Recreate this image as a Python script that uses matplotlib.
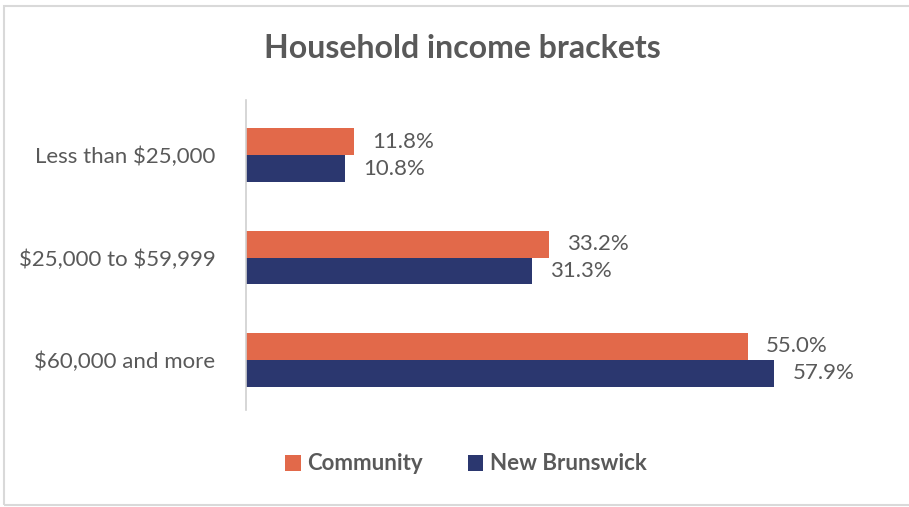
import matplotlib; matplotlib.use("Agg")
import matplotlib.pyplot as plt
from matplotlib.patches import Rectangle
import numpy as np

categories = ["Less than \\$25,000", "\\$25,000 to \\$59,999", "\\$60,000 and more"]
community = [11.8, 33.2, 55.0]
new_brunswick = [10.8, 31.3, 57.9]
series_names = ["Community", "New Brunswick"]

ORANGE = "#E2694A"
NAVY = "#2B376F"
GREY = "#595959"
FONT = ["Lato", "DejaVu Sans"]

fig = plt.figure(figsize=(9.09, 5.07), dpi=100)
W, H = 909, 507
# axes box in pixel terms: left 246, right 880, top 100, bottom 410
ax = fig.add_axes([246 / W, 1 - 410 / H, (880 - 246) / W, (410 - 100) / H])

y = np.arange(len(categories))
h = 0.263
ax.barh(y - h / 2, community, height=h, color=ORANGE, label=series_names[0])
ax.barh(y + h / 2, new_brunswick, height=h, color=NAVY, label=series_names[1])

for yi, v in zip(y, community):
    ax.text(v + 2.0, yi - h / 2, f"{v:.1f}%", va="center", ha="left",
            fontsize=16, color=GREY, family=FONT)
for yi, v in zip(y, new_brunswick):
    ax.text(v + 2.0, yi + h / 2, f"{v:.1f}%", va="center", ha="left",
            fontsize=16, color=GREY, family=FONT)

ax.set_xlim(0, 69.5)
ax.set_ylim(2.49, -0.54)
ax.set_yticks(y)
ax.set_yticklabels(categories, fontsize=16, color=GREY, family=FONT)
ax.tick_params(axis="y", length=0, pad=22)
ax.set_xticks([])
for s in ["top", "right", "bottom"]:
    ax.spines[s].set_visible(False)
ax.spines["left"].set_color("#D0D0D0")
ax.spines["left"].set_linewidth(1.2)

fig.text(462 / W, 1 - 48 / H, "Household income brackets", ha="center", va="center",
         fontsize=23, fontweight="bold", color=GREY, family=FONT)

leg = fig.legend(loc="center", bbox_to_anchor=(466 / W, 1 - 464 / H), ncol=2,
                 frameon=False, handlelength=0.7, handleheight=0.7,
                 handletextpad=0.3, columnspacing=2.0,
                 prop={"family": FONT, "size": 16, "weight": "bold"})
for t in leg.get_texts():
    t.set_color(GREY)

# light outer frame
fig.patches.append(Rectangle((4 / W, 2 / H), 1.2, 1 - 8 / H, transform=fig.transFigure,
                             fill=False, edgecolor="#D9D9D9", linewidth=1.5))

fig.savefig("out.png", dpi=100)
